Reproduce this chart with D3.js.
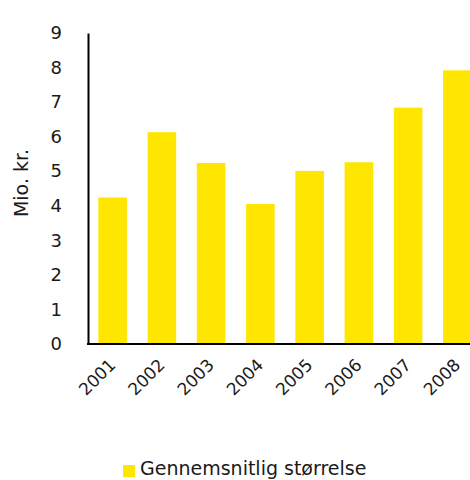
<!DOCTYPE html>
<html>
<head>
<meta charset="utf-8">
<style>
  body { margin: 0; background: #fff; }
  svg { display: block; }
  .tick text, .year, .legend text, .ylab {
      font-family: "DejaVu Sans", sans-serif;
      fill: #1a1a1a;
  }
</style>
</head>
<body>
<svg width="470" height="480"></svg>
<script src="https://d3js.org/d3.v7.min.js"></script>
<script>

// data
var years = ["2001", "2002", "2003", "2004", "2005", "2006", "2007", "2008"];
var avgSize = [4.24, 6.13, 5.24, 4.05, 5.01, 5.26, 6.84, 7.92];
var yTicks = [0, 1, 2, 3, 4, 5, 6, 7, 8, 9];
var seriesName = "Gennemsnitlig størrelse";
var yLabel = "Mio. kr.";

var yellow = "#FFE600";

var svg = d3.select("svg");

var x = d3.scaleBand()
    .domain(years)
    .range([88, 482])
    .paddingInner(0.42)
    .paddingOuter(0.21);

var y = d3.scaleLinear()
    .domain([0, 9])
    .range([344, 33]);

// bars
svg.selectAll(".bar")
    .data(years)
    .enter().append("rect")
    .attr("class", "bar")
    .attr("x", function(d) { return x(d); })
    .attr("width", x.bandwidth())
    .attr("y", function(d, i) { return y(avgSize[i]); })
    .attr("height", function(d, i) { return y(0) - y(avgSize[i]); })
    .style("fill", yellow);

// y axis
var yAxis = svg.append("g")
    .attr("transform", "translate(88,0)")
    .call(d3.axisLeft(y).tickValues(yTicks).tickSize(0).tickPadding(26));

yAxis.select(".domain").attr("stroke", "#000").attr("stroke-width", 2);
yAxis.selectAll(".tick text").style("font-size", "18px");

// x axis line
svg.append("line")
    .attr("x1", 87)
    .attr("x2", 470)
    .attr("y1", y(0))
    .attr("y2", y(0))
    .attr("stroke", "#000")
    .attr("stroke-width", 2);

// rotated year labels
svg.selectAll(".year")
    .data(years)
    .enter().append("text")
    .attr("class", "year")
    .attr("text-anchor", "end")
    .attr("transform", function(d) {
        return "translate(" + (x(d) + x.bandwidth() / 2 + 4) + ",366) rotate(-45)";
    })
    .style("font-size", "17px")
    .text(function(d) { return d; });

// y label
svg.append("text")
    .attr("class", "ylab")
    .attr("text-anchor", "middle")
    .attr("transform", "translate(28,183) rotate(-90)")
    .style("font-size", "19px")
    .text(yLabel);

// legend
var legend = svg.append("g").attr("class", "legend");
legend.append("rect")
    .attr("x", 123)
    .attr("y", 465)
    .attr("width", 12)
    .attr("height", 12)
    .style("fill", yellow);
legend.append("text")
    .attr("x", 140)
    .attr("y", 475)
    .style("font-size", "19px")
    .text(seriesName);

</script>
</body>
</html>
